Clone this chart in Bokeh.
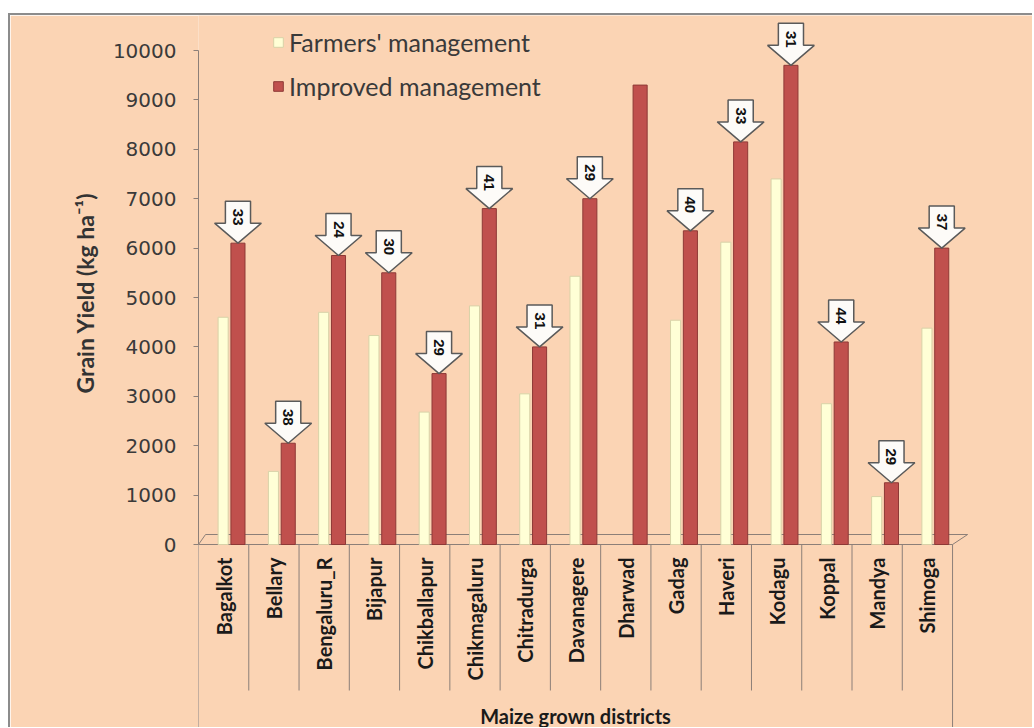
import math
from bokeh.plotting import figure
from bokeh.models import (Range1d, FixedTicker, ColumnDataSource, Legend,
                          LegendItem, Spacer, Title)
from bokeh.layouts import column, row
from bokeh.embed import file_html
from bokeh.resources import INLINE
from bokeh.core.properties import value

# ---------------- data ----------------
districts = ["Bagalkot", "Bellary", "Bengaluru_R", "Bijapur", "Chikballapur",
             "Chikmagaluru", "Chitradurga", "Davanagere", "Dharwad", "Gadag",
             "Haveri", "Kodagu", "Koppal", "Mandya", "Shimoga"]
farmers = [4600, 1480, 4700, 4230, 2680, 4830, 3050, 5430, 0, 4540,
           6120, 7400, 2850, 970, 4380]
improved = [6100, 2050, 5850, 5500, 3460, 6800, 4000, 7000, 9300, 6350,
            8150, 9700, 4100, 1250, 6000]
increase = [33, 38, 24, 30, 29, 41, 31, 29, None, 40, 33, 31, 44, 29, 37]
y_ticks = list(range(0, 10001, 1000))
series_names = ["Farmers' management", "Improved management"]
y_title = "Grain Yield (kg ha\u207b\u00b9)"
x_title = "Maize grown districts"

# ---------------- styling ----------------
BG = "#FBD4B4"
RED = "#C0504D"
RED_EDGE = "#8E3936"
CREAM = "#FFFFD6"
CREAM_EDGE = "#D8D2A8"
GRID = "#8C7F78"
FRAME = "#8C8C8C"

TOP_WHITE, LEFT_WHITE, LINE = 13, 8, 2
W, H = 1022, 712            # figure starts at x=10, y=15 on the page
LEFT = 188                  # frame left edge at x=198
U = 10000 / 494.0           # data units per screen pixel (vertical)
CAT_PX = 50.27              # pixels per category
n = len(districts)

fig_top = TOP_WHITE + LINE
fig_bottom = fig_top + H
fw = W - LEFT
y_top = (544 - fig_top) * U
y_bot = -(fig_bottom - 544) * U

p = figure(width=W, height=H, x_range=Range1d(0, fw / CAT_PX),
           y_range=Range1d(y_bot, y_top), output_backend="svg",
           toolbar_location=None, x_axis_location=None,
           min_border_left=LEFT, min_border_right=0, min_border_top=0,
           min_border_bottom=0)
p.background_fill_color = BG
p.border_fill_color = BG
p.outline_line_color = None
p.grid.visible = False

ax = p.yaxis[0]
ax.ticker = FixedTicker(ticks=y_ticks)
ax.bounds = (0, 10000)
ax.axis_line_color = GRID
ax.major_tick_line_color = GRID
ax.major_tick_out = 5
ax.major_tick_in = 0
ax.minor_tick_line_color = None
ax.major_label_text_font = "DejaVu Sans"
ax.major_label_text_font_size = "20px"
ax.major_label_text_color = "#3A3A3A"
ax.major_label_standoff = 17

# y-axis title, placed alongside the 0..10000 span of the axis
p.add_layout(Title(text=y_title, align="right", offset=177,
                   text_font="Lato", text_font_style="bold",
                   text_font_size="23px", text_color="#333333",
                   standoff=22), "left")

# ---------------- category table (separators + floor) ----------------
bounds = list(range(n + 1))
sep_bottom = [-(690 - 544) * U if 0 < b < n else y_bot for b in bounds]
p.segment(x0=bounds, y0=[0] * len(bounds), x1=bounds, y1=sep_bottom,
          line_color=GRID, line_width=1)
floor_back = 10 * U
p.line(x=[0, 0.14, n + 0.3, n, 0], y=[0, floor_back, floor_back, 0, 0],
       line_color=GRID, line_width=1)

# ---------------- bars ----------------
f_idx = [i for i, v in enumerate(farmers) if v > 0]
src_f = ColumnDataSource(dict(x=[i + 0.49 for i in f_idx],
                              top=[farmers[i] for i in f_idx]))
src_i = ColumnDataSource(dict(x=[i + 0.785 for i in range(n)], top=improved))
r_f = p.vbar(x="x", top="top", bottom=0, width=0.2, source=src_f,
             fill_color=CREAM, line_color=CREAM_EDGE, line_width=1)
r_i = p.vbar(x="x", top="top", bottom=0, width=0.28, source=src_i,
             fill_color=RED, line_color=RED_EDGE, line_width=1)

# ---------------- arrows with % increase ----------------
xs, ys, tx, ty, tt = [], [], [], [], []
hw_head, hw_shaft = 0.465, 0.25
h_head, h_shaft = 20 * U, 22 * U
for i, pc in enumerate(increase):
    if pc is None:
        continue
    cx = i + 0.785
    tip = improved[i]
    xs.append([cx, cx - hw_head, cx - hw_shaft, cx - hw_shaft,
               cx + hw_shaft, cx + hw_shaft, cx + hw_head])
    ys.append([tip, tip + h_head, tip + h_head, tip + h_head + h_shaft,
               tip + h_head + h_shaft, tip + h_head, tip + h_head])
    tx.append(cx)
    ty.append(tip + 26 * U)
    tt.append(str(pc))
p.patches(xs=xs, ys=ys, fill_color="#FDFBF8", line_color="#5A5A5A",
          line_width=1.5)
p.text(x=tx, y=ty, text=tt, angle=-math.pi / 2, text_align="center",
       text_baseline="middle", text_font=value("Liberation Sans"),
       text_font_style="bold", text_font_size="15px", text_color="#111111")

# ---------------- category labels ----------------
p.text(x=[i + 0.5 for i in range(n)], y=[-(557 - 544) * U] * n, text=districts,
       angle=math.pi / 2, text_align="right", text_baseline="middle",
       text_font=value("Lato"), text_font_style="bold",
       text_font_size="20px", text_color="#1A1A1A")
p.text(x=[n / 2], y=[-(715 - 544) * U], text=[x_title],
       text_align="center", text_baseline="middle", text_font=value("Lato"),
       text_font_style="bold", text_font_size="20px", text_color="#1A1A1A")

# ---------------- legend ----------------
legend = Legend(items=[LegendItem(label=series_names[0], renderers=[r_f]),
                       LegendItem(label=series_names[1], renderers=[r_i])],
                location=(74, H - 86), orientation="vertical",
                background_fill_alpha=0, border_line_color=None,
                padding=0, margin=0, spacing=14, glyph_width=12,
                glyph_height=12, label_standoff=5,
                label_text_font="Lato", label_text_font_size="25px",
                label_text_color="#3A3A3A")
p.add_layout(legend)

top_gap = Spacer(width=W + LEFT_WHITE + LINE, height=TOP_WHITE)
top_line = row(Spacer(width=LEFT_WHITE, height=LINE),
               Spacer(width=W + LINE, height=LINE,
                      styles={"background-color": FRAME}))
left_gap = Spacer(width=LEFT_WHITE, height=H)
left_line = Spacer(width=LINE, height=H, styles={"background-color": FRAME})
layout = column(top_gap, top_line, row(left_gap, left_line, p))

open("out.html", "w").write(file_html(layout, INLINE))
